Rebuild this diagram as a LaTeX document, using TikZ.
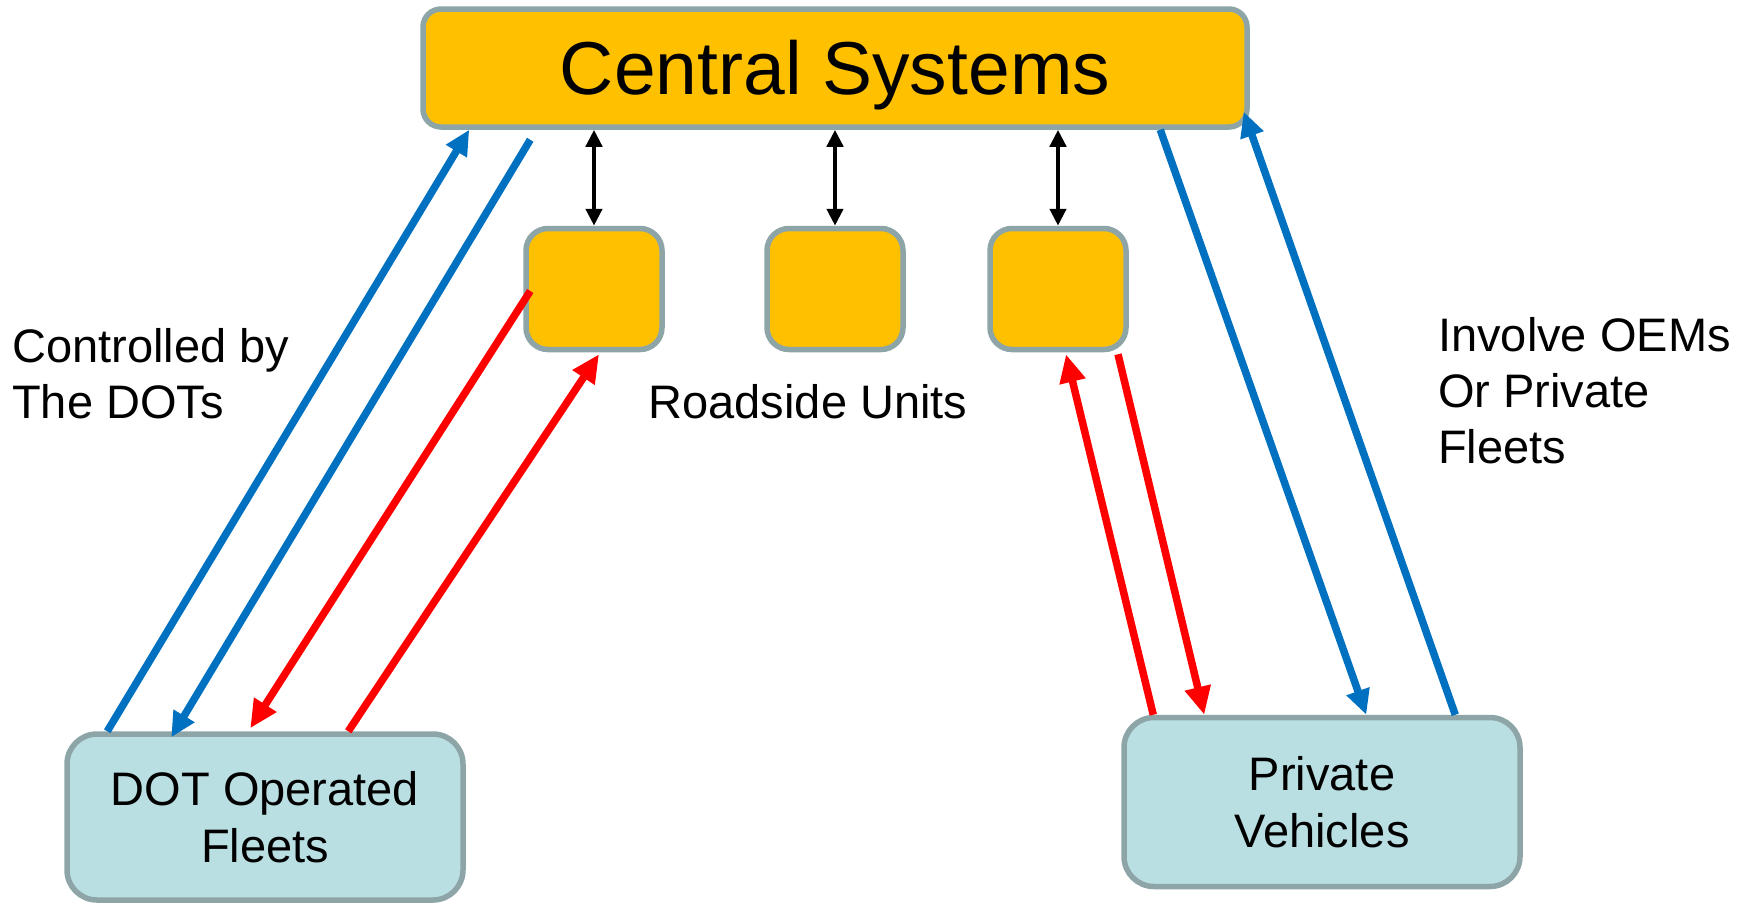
\documentclass[tikz,border=0pt]{standalone}
\usepackage{fontspec}
\setmainfont{Liberation Sans}
\usetikzlibrary{arrows.meta,calc}
\definecolor{boxorange}{HTML}{FFC000}
\definecolor{boxedge}{HTML}{8EA5A8}
\definecolor{fleetfill}{HTML}{B9DFE3}
\definecolor{flowblue}{HTML}{0070C0}
\definecolor{flowred}{HTML}{FF0000}
\tikzset{
  hub/.style={draw=boxedge, fill=boxorange, line width=5.5pt, rounded corners=18pt,
    minimum width=824pt, minimum height=118pt, inner sep=0pt,
    text height=52pt, text depth=0pt,
    font=\fontsize{75}{90}\selectfont},
  rsu/.style={draw=boxedge, fill=boxorange, line width=5.5pt, rounded corners=22pt,
    minimum width=136pt, minimum height=121pt, inner sep=0pt},
  fleet/.style={draw=boxedge, fill=fleetfill, line width=5.5pt, rounded corners=30pt,
    minimum width=396pt, inner sep=0pt, align=center,
    font=\fontsize{47}{57}\selectfont},
  note/.style={inner sep=0pt, font=\fontsize{47}{56}\selectfont},
  blueflow/.style={draw=flowblue, line width=7.5pt,
    -{Triangle[length=25pt,width=23pt]}},
  redflow/.style={draw=flowred, line width=7.5pt,
    -{Triangle[length=28pt,width=25pt]}},
  link/.style={draw=black, line width=4.5pt,
    {Triangle[length=17pt,width=16pt]}-{Triangle[length=17pt,width=16pt]}}
}
\begin{document}
\begin{tikzpicture}[x=1pt,y=-1pt]
\useasboundingbox (0,0) rectangle (1756,903);

% central system and roadside units
\node[hub] (cs) at (835,68) {Central Systems};
\node[rsu] (r1) at (594,289) {};
\node[rsu] (r2) at (835,289) {};
\node[rsu] (r3) at (1058,289) {};

% fleets
\node[fleet, minimum height=166pt] (dot) at (265,817) {DOT Operated\\Fleets};
\node[fleet, minimum height=169pt] (pv) at (1322,802) {Private\\Vehicles};

% captions
\node[note, anchor=center] (rsulabel) at (808,402) {Roadside Units};
\node[note, anchor=west, align=left] (ctl) at (12,374) {Controlled by\\The DOTs};
\node[note, anchor=west, align=left] (oem) at (1438,391) {Involve OEMs\\Or Private\\Fleets};

% central system <-> roadside units
\draw[link] (cs.south -| r1) -- (r1.north);
\draw[link] (cs.south -| r2) -- (r2.north);
\draw[link] (cs.south -| r3) -- (r3.north);

% DOT fleet links
\draw[blueflow] ($(dot.north west)+(43,0)$) -- ($(cs.south west)+(49,0)$);
\draw[blueflow] ($(cs.south west)+(110,10)$) -- ($(dot.north west)+(107,6)$);
\draw[redflow] ($(r1.west)+(7,2)$) -- ($(dot.north west)+(186,-3)$);
\draw[redflow] ($(dot.north west)+(284,0)$) -- ($(r1.south)+(5,2)$);

% private vehicle links
\draw[redflow] ($(pv.north west)+(32,0)$) -- ($(r3.south)+(8,2)$);
\draw[redflow] ($(r3.south)+(60,2)$) -- ($(pv.north west)+(83,0)$);
\draw[blueflow] ($(cs.south west)+(740,0)$) -- ($(pv.north west)+(245,0)$);
\draw[blueflow] ($(pv.north west)+(334,0)$) -- ($(cs.south east)+(-6,-18)$);
\end{tikzpicture}
\end{document}
